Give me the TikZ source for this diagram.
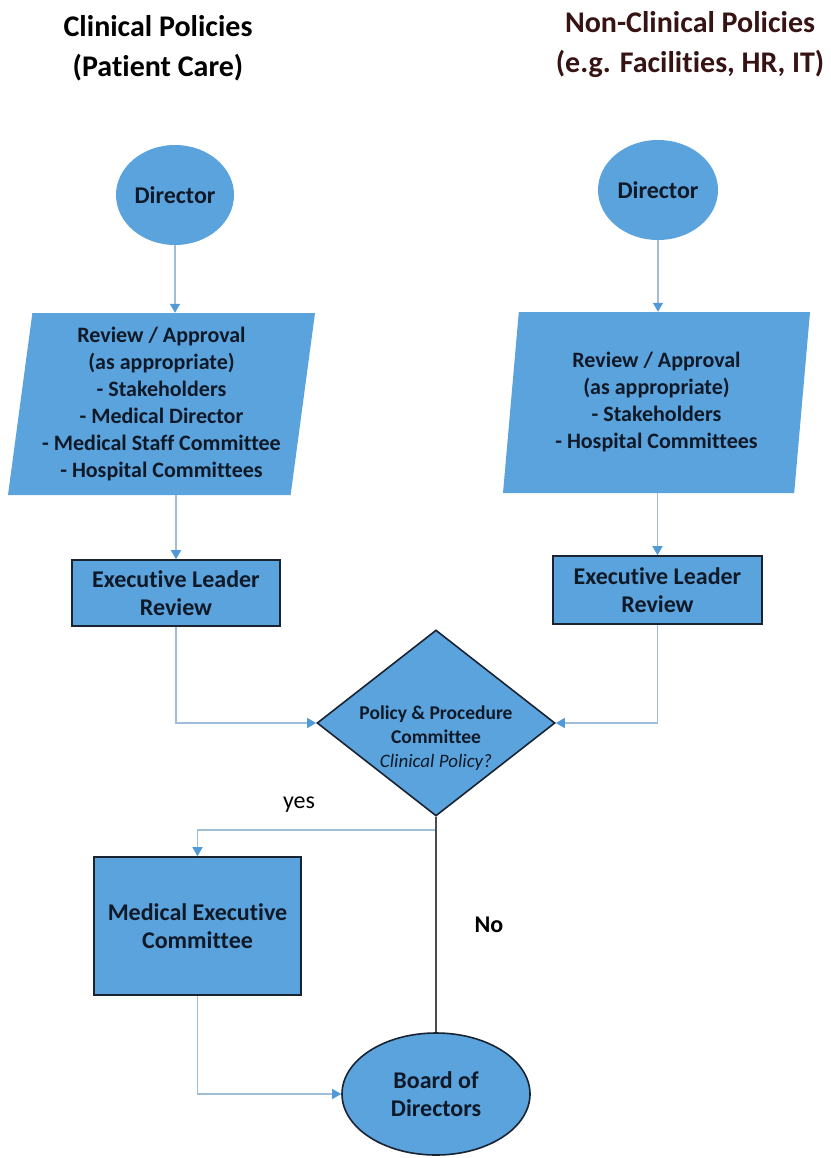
\documentclass[tikz,border=0pt]{standalone}
\usepackage{fontspec}
\setmainfont{Carlito}[Ligatures=NoCommon]
\usetikzlibrary{arrows.meta,shapes.geometric}
\definecolor{BoxClr}{RGB}{91,163,220}
\definecolor{LineClr}{RGB}{160,190,215}
\definecolor{TipClr}{RGB}{80,155,215}
\definecolor{EdgeClr}{RGB}{25,35,50}
\definecolor{TxtClr}{RGB}{15,25,40}
\definecolor{HeadClr}{RGB}{55,20,20}

\begin{document}
\begin{tikzpicture}[x=1pt,y=-1pt,
  txt/.style={text=TxtClr,font=\bfseries\fontsize{22}{27}\selectfont,align=center},
  bigtxt/.style={text=TxtClr,font=\bfseries\fontsize{24}{28}\selectfont,align=center},
  head/.style={font=\bfseries\fontsize{30}{40}\selectfont,align=center},
  oval/.style={ellipse,fill=BoxClr,bigtxt,inner sep=0pt},
  slant/.style={trapezium,trapezium left angle=81,trapezium right angle=99,
    trapezium stretches body,fill=BoxClr,txt,inner sep=0pt},
  box/.style={rectangle,fill=BoxClr,draw=EdgeClr,line width=1.6pt,bigtxt,inner sep=0pt},
  decide/.style={diamond,fill=BoxClr,draw=EdgeClr,line width=1.6pt,inner sep=0pt},
  flow/.style={draw=LineClr,line width=1.4pt,-{Triangle[width=10pt,length=9pt,color=TipClr]}},
  noflow/.style={draw=black!70,line width=1.8pt}]

\useasboundingbox[fill=white] (0,0) rectangle (830,1158);

% headings
\node[head] (headL) at (158,48) {Clinical Policies\\(Patient Care)};
\node[head,text=HeadClr] (headR) at (690,45) {Non-Clinical Policies\\(e.g. Facilities, HR, IT)};

% clinical column
\node[oval,minimum width=118pt,minimum height=100pt] (dirL) at (175,195) {Director};
\node[slant,minimum width=307pt,minimum height=182pt] (revL) at (161.5,404)
  {Review / Approval\\(as appropriate)\\- Stakeholders\\- Medical Director\\- Medical Staff Committee\\- Hospital Committees};
\node[box,minimum width=208pt,minimum height=66pt] (execL) at (176,593) {Executive Leader\\Review};

% non-clinical column
\node[oval,minimum width=120pt,minimum height=100pt] (dirR) at (658,190) {Director};
\node[slant,minimum width=307pt,minimum height=181pt] (revR) at (656.5,402.5)
  {Review / Approval\\(as appropriate)\\- Stakeholders\\- Hospital Committees};
\node[box,minimum width=209pt,minimum height=68pt] (execR) at (657.5,590) {Executive Leader\\Review};

% committee and outcome
\node[decide,minimum width=238pt,minimum height=186pt] (ppc) at (436,723) {};
\node[text=TxtClr,font=\bfseries\fontsize{19.5}{24}\selectfont,align=center] (ppctxt) at (436,738)
  {Policy \& Procedure\\Committee\\{\mdseries\itshape\fontsize{19}{26}\selectfont Clinical Policy?}};
\node[box,minimum width=207pt,minimum height=138pt] (medex) at (197.5,926) {Medical Executive\\Committee};
\node[oval,draw=EdgeClr,line width=1.6pt,minimum width=188pt,minimum height=122pt] (board) at (436,1094) {Board of\\Directors};

\node[text=black,font=\fontsize{24}{28}\selectfont] (yes) at (299,805) {yes};
\node[text=black,font=\bfseries\fontsize{24}{28}\selectfont] (no) at (489,925) {No};

\coordinate (yturn) at (436,830);

% connectors
\draw[flow] (dirL) -- (dirL |- revL.north);
\draw[flow] (dirR) -- (dirR |- revR.north);
\draw[flow] (execL.north |- revL.south) -- (execL.north);
\draw[flow] (execR.north |- revR.south) -- (execR.north);
\draw[flow] (execL.south) |- (ppc.west);
\draw[flow] (execR.south) |- (ppc.east);
\draw[flow] (ppc.south) -- (yturn) -| (medex.north);
\draw[flow] (medex.south) |- (board.west);
\draw[noflow] (ppc.south) -- (board.north);

\end{tikzpicture}
\end{document}
